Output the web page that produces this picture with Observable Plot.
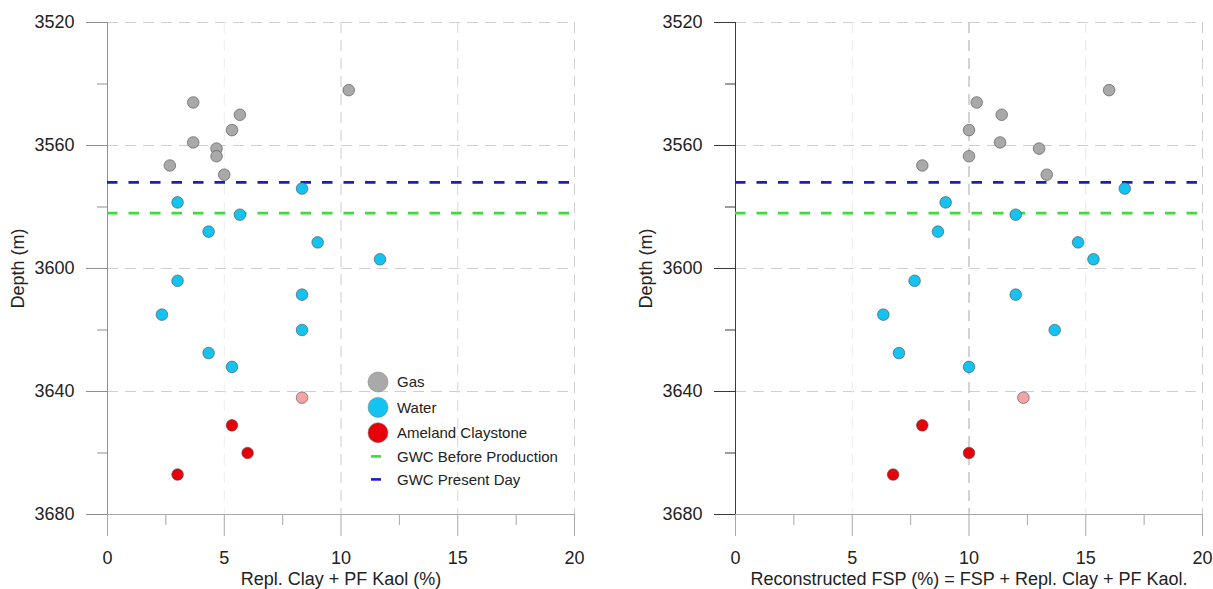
<!DOCTYPE html>
<html>
<head>
<meta charset="utf-8">
<script src="https://cdn.jsdelivr.net/npm/d3@7"></script>
<script src="https://cdn.jsdelivr.net/npm/@observablehq/plot@0.6"></script>
<style>
  body { margin: 0; background: #fff; font-family: Arial, "Liberation Sans", sans-serif; }
  #chart { position: relative; width: 1213px; height: 589px; display: flex; }
  #chart > svg { flex: none; }
  #legend { position: absolute; left: 0; top: 0; pointer-events: none; overflow: visible; }
</style>
</head>
<body>
<div id="chart"></div>
<script>
// Core samples: depth (m), fluid / facies class and the two petrographic sums (%)
const depth = [
  3542, 3546, 3550, 3555, 3559, 3561, 3563.5, 3566.5, 3569.5,
  3574, 3578.5, 3582.5, 3588, 3591.5, 3597, 3604, 3608.5, 3615, 3620, 3627.5, 3632,
  3642,
  3651, 3660, 3667
];
const facies = [
  "Gas", "Gas", "Gas", "Gas", "Gas", "Gas", "Gas", "Gas", "Gas",
  "Water", "Water", "Water", "Water", "Water", "Water", "Water", "Water", "Water", "Water", "Water", "Water",
  "Ameland Claystone (pale)",
  "Ameland Claystone", "Ameland Claystone", "Ameland Claystone"
];
const replClayKaol = [
  10.33, 3.67, 5.67, 5.33, 3.67, 4.67, 4.67, 2.67, 5.0,
  8.33, 3.0, 5.67, 4.33, 9.0, 11.67, 3.0, 8.33, 2.33, 8.33, 4.33, 5.33,
  8.33,
  5.33, 6.0, 3.0
];
const reconstructedFsp = [
  16.0, 10.33, 11.4, 10.0, 11.33, 13.0, 10.0, 8.0, 13.33,
  16.67, 9.0, 12.0, 8.67, 14.67, 15.33, 7.67, 12.0, 6.33, 13.67, 7.0, 10.0,
  12.33,
  8.0, 10.0, 6.75
];

// Gas-water contacts (m)
const gwcBeforeProduction = 3582;
const gwcPresentDay = 3572;

// Axis ticks
const depthTicks = [3520, 3560, 3600, 3640, 3680];
const depthMinorTicks = [3540, 3580, 3620, 3660];
const pctTicks = [0, 5, 10, 15, 20];
const pctMinorTicks = [2.5, 7.5, 12.5, 17.5];

// Classes and colours
const faciesNames = ["Gas", "Water", "Ameland Claystone", "Ameland Claystone (pale)"];
const faciesColors = ["#a9a9a9", "#14c3ef", "#e6000a", "#f4a4a4"];
const gwcBeforeColor = "#3ddb3d";
const gwcPresentColor = "#1c1cc4";
const legendLabels = ["Gas", "Water", "Ameland Claystone", "GWC Before Production", "GWC Present Day"];

const rows = depth.map((d, i) => ({
  depth: d,
  facies: facies[i],
  clay: replClayKaol[i],
  fsp: reconstructedFsp[i]
}));

const font = 'Arial, "Liberation Sans", sans-serif';

function panel({xField, xLabel, width, marginRight, yAxisColor, gridColors}) {
  return Plot.plot({
    width,
    height: 589,
    marginLeft: 107,
    marginRight,
    marginTop: 22,
    marginBottom: 75,
    style: {fontFamily: font, fontSize: "18px", color: "#222", background: "transparent", overflow: "visible"},
    x: {domain: [0, 20]},
    y: {domain: [3520, 3680], reverse: true},
    color: {domain: faciesNames, range: faciesColors},
    marks: [
      // dashed grid
      Plot.gridY(depthTicks.slice(0, -1), {stroke: "#cfcfcf", strokeOpacity: 1, strokeDasharray: "11,7"}),
      ...pctTicks.slice(1).map((t, i) =>
        Plot.gridX([t], {stroke: gridColors[i], strokeOpacity: 1, strokeDasharray: "11,7"})),
      // axis lines
      Plot.ruleY([3680], {stroke: "#a8a8a8"}),
      Plot.ruleX([0], {stroke: yAxisColor}),
      // y axis
      Plot.axisY(depthTicks, {
        tickSize: 21, tickPadding: 12, stroke: yAxisColor, fill: "#222", fontSize: 18,
        tickFormat: d3.format("d"),
        label: "Depth (m)", labelAnchor: "center", labelOffset: 96, labelArrow: "none"
      }),
      Plot.axisY(depthMinorTicks, {tickSize: 10, text: null, label: null, stroke: yAxisColor}),
      // x axis
      Plot.axisX(pctTicks, {
        tickSize: 22, tickPadding: 15, stroke: "#a8a8a8", fill: "#222", fontSize: 18,
        tickFormat: d3.format("d"),
        label: xLabel, labelAnchor: "center", labelOffset: 70, labelArrow: "none"
      }),
      Plot.axisX(pctMinorTicks, {tickSize: 11, text: null, label: null, stroke: "#a8a8a8"}),
      // gas-water contacts
      Plot.ruleY([gwcPresentDay], {stroke: gwcPresentColor, strokeWidth: 2.6, strokeDasharray: "10.5,11"}),
      Plot.ruleY([gwcBeforeProduction], {stroke: gwcBeforeColor, strokeWidth: 2.8, strokeDasharray: "10.5,11"}),
      // samples
      Plot.dot(rows, {x: xField, y: "depth", fill: "facies", r: 5.8, stroke: "#4a4a4a", strokeWidth: 0.6})
    ]
  });
}

const chart = document.getElementById("chart");
chart.append(panel({
  xField: "clay",
  xLabel: "Repl. Clay + PF Kaol (%)",
  width: 628,
  marginRight: 54,
  yAxisColor: "#8f8f8f",
  gridColors: ["#ececec", "#cdcdcd", "#d6d6d6", "#d0d0d0"]
}));
chart.append(panel({
  xField: "fsp",
  xLabel: "Reconstructed FSP (%) = FSP + Repl. Clay + PF Kaol.",
  width: 585,
  marginRight: 11,
  yAxisColor: "#3a3a3a",
  gridColors: ["#ececec", "#a9a9a9", "#e6e6e6", "#cdcdcd"]
}));

// Legend inside the left panel
const legend = d3.select(chart).append("svg")
  .attr("id", "legend")
  .attr("width", 628)
  .attr("height", 589);
const g = legend.append("g").attr("transform", "translate(378,382)");
const rowY = [0, 25.4, 50.7, 74.4, 97.4];
legendLabels.forEach((label, i) => {
  const item = g.append("g").attr("transform", `translate(0,${rowY[i]})`);
  if (i < 3) {
    item.append("circle").attr("r", 10)
      .attr("fill", faciesColors[i]).attr("stroke", "#777").attr("stroke-width", 0.5);
  } else {
    item.append("line").attr("x1", -7).attr("x2", 3)
      .attr("stroke", i === 3 ? gwcBeforeColor : gwcPresentColor).attr("stroke-width", 2.6);
  }
  item.append("text").attr("x", 19).attr("dy", "0.35em")
    .attr("font-family", font).attr("font-size", 15).attr("fill", "#222")
    .text(label);
});
</script>
</body>
</html>
